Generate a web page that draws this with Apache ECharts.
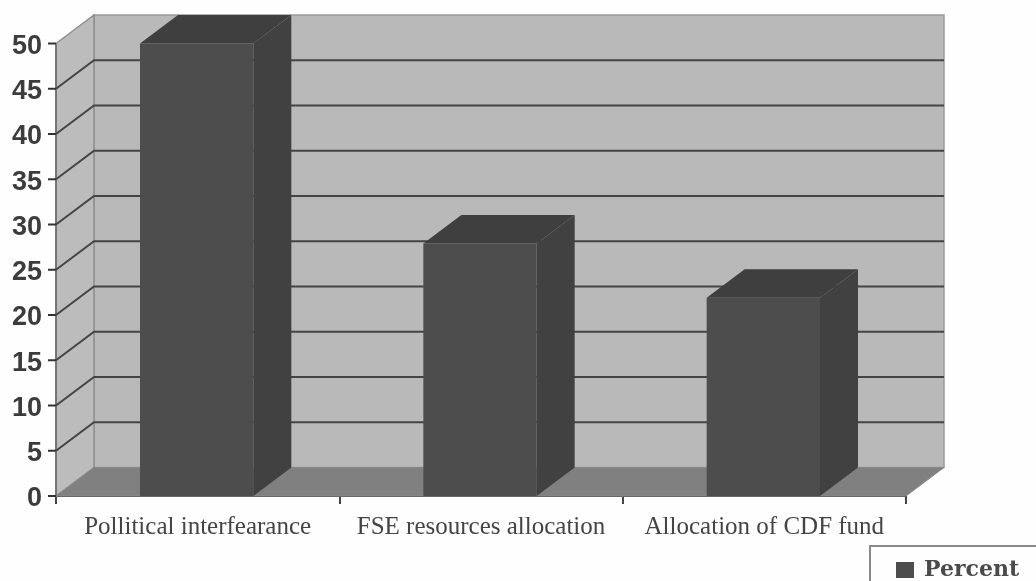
<!DOCTYPE html>
<html>
<head>
<meta charset="utf-8">
<style>
html,body{margin:0;padding:0;background:#fefefe;overflow:hidden}
#c{width:1036px;height:581px;filter:blur(0.7px)}
</style>
<script src="https://cdn.jsdelivr.net/npm/echarts@6/dist/echarts.min.js"></script>
</head>
<body>
<div id="c"></div>
<script>
const categories = ['Pollitical interfearance', 'FSE resources allocation', 'Allocation of CDF fund'];
const percent = [50, 27.9, 21.9];
const yTicks = [0, 5, 10, 15, 20, 25, 30, 35, 40, 45, 50];

const DX = 38, DY = 28.5, BAR_SHIFT = -1, TICK = 8;
const chart = echarts.init(document.getElementById('c'), null, {renderer: 'canvas'});

function renderWall(params, api) {
  const cs = params.coordSys;
  const v = api.value(1);
  const y = api.coord([0, v])[1];
  const L = cs.x, R = cs.x + cs.width, B = cs.y + cs.height, T = cs.y;
  const children = [];
  if (params.dataIndex === 0) {
    children.push({type: 'polygon', shape: {points: [[L + DX, T - DY], [R + DX, T - DY], [R + DX, B - DY], [L + DX, B - DY]]},
      style: {fill: '#b9b9b9', stroke: '#9a9a9a', lineWidth: 1.5}});
    children.push({type: 'polygon', shape: {points: [[L, T], [L + DX, T - DY], [L + DX, B - DY], [L, B]]},
      style: {fill: '#bcbcbc', stroke: '#8f8f8f', lineWidth: 1.5}});
    children.push({type: 'polygon', shape: {points: [[L, B], [L + DX, B - DY], [R + DX, B - DY], [R, B]]},
      style: {fill: '#808080', stroke: '#8a8a8a', lineWidth: 1}});
    children.push({type: 'line', shape: {x1: L, y1: T, x2: L, y2: B},
      style: {stroke: '#666666', lineWidth: 1.5}});
  }
  if (v > 0 && v < 50) {
    children.push({type: 'polyline', shape: {points: [[L, y], [L + DX, y - DY], [R + DX, y - DY]]},
      style: {fill: 'none', stroke: '#444444', lineWidth: 2}});
  }
  children.push({type: 'line', shape: {x1: L - TICK, y1: y, x2: L, y2: y},
    style: {stroke: '#333333', lineWidth: 2}});
  return {type: 'group', children};
}

function renderBar(params, api) {
  const p = api.coord([api.value(0), api.value(1)]);
  const base = api.coord([api.value(0), 0]);
  const w = api.size([1, 0])[0] / 2.5;
  const l = p[0] - w / 2 + BAR_SHIFT, r = l + w, t = p[1], b = base[1];
  return {type: 'group', children: [
    {type: 'polygon', shape: {points: [[l, t], [l + DX, t - DY], [r + DX, t - DY], [r, t]]},
      style: {fill: '#3f3f3f'}},
    {type: 'polygon', shape: {points: [[r, t], [r + DX, t - DY], [r + DX, b - DY], [r, b]]},
      style: {fill: '#414141'}},
    {type: 'rect', shape: {x: l, y: t, width: w, height: b - t},
      style: {fill: '#4d4d4d'}}
  ]};
}

chart.setOption({
  animation: false,
  backgroundColor: '#fefefe',
  grid: {left: 56, right: 130, top: 43.5, height: 452.5},
  xAxis: {
    type: 'category', data: categories,
    axisLine: {lineStyle: {color: '#444444', width: 2}},
    axisTick: {show: true, length: 8, lineStyle: {color: '#444444', width: 2}},
    axisLabel: {fontFamily: 'Liberation Serif', fontSize: 25, color: '#444444', margin: 19, interval: 0}
  },
  yAxis: {
    type: 'value', min: 0, max: 50, interval: 5,
    splitLine: {show: false},
    axisLine: {show: false},
    axisTick: {show: false},
    axisLabel: {
      margin: 14,
      formatter: '{v|{value}}',
      rich: {v: {fontFamily: 'Liberation Sans', fontWeight: 'bold', fontSize: 27, color: '#3c3c3c', padding: [6, 0, 0, 0]}}
    }
  },
  legend: {
    data: ['Percent'], left: 870, top: 546,
    padding: [13, 60, 5, 26],
    borderColor: '#8a8a8a', borderWidth: 2, backgroundColor: '#fefefe',
    itemWidth: 18, itemHeight: 16,
    icon: 'rect',
    textStyle: {fontFamily: 'DejaVu Serif', fontWeight: 'bold', fontSize: 22, color: '#4a4a4a', padding: [0, 0, 0, 5]}
  },
  series: [
    {type: 'custom', name: 'wall', silent: true, clip: false, z: 1, renderItem: renderWall,
      data: yTicks.map(v => [0, v])},
    {type: 'custom', name: 'Percent', clip: false, z: 3, renderItem: renderBar,
      itemStyle: {color: '#4d4d4d'},
      encode: {x: 0, y: 1},
      data: percent.map((v, i) => [i, v])}
  ]
});
</script>
</body>
</html>
